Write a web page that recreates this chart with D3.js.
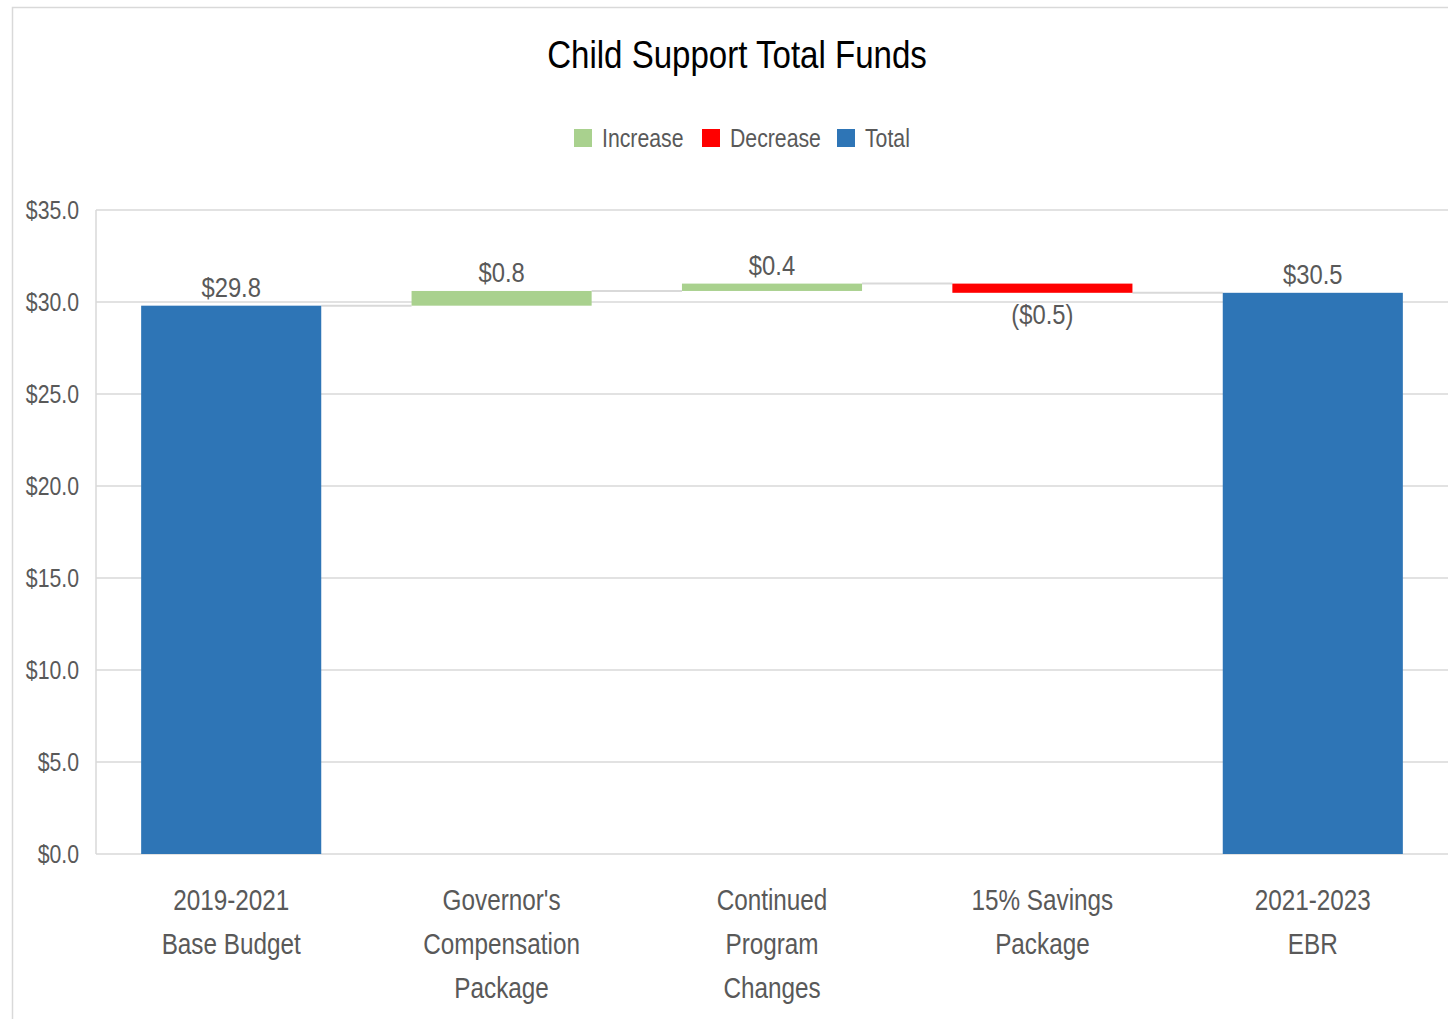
<!DOCTYPE html>
<html>
<head>
<meta charset="utf-8">
<script src="https://cdn.jsdelivr.net/npm/d3@7"></script>
<style>
  html, body { margin: 0; padding: 0; background: #fff; }
  svg { display: block; }
  text { font-family: "Liberation Sans", Arial, sans-serif; }
</style>
</head>
<body>
<svg id="chart" width="1448" height="1019"></svg>
<script>
// ---- data ----
const categories = [
  ["2019-2021", "Base Budget"],
  ["Governor's", "Compensation", "Package"],
  ["Continued", "Program", "Changes"],
  ["15% Savings", "Package"],
  ["2021-2023", "EBR"]
];
const values = [29.8, 0.8, 0.4, -0.5, 30.5];
const kinds = ["Total", "Increase", "Increase", "Decrease", "Total"];
const yTicks = [0, 5, 10, 15, 20, 25, 30, 35];
const legendItems = ["Increase", "Decrease", "Total"];
const title = "Child Support Total Funds";

// ---- styling ----
const colors = { Increase: "#a9d18e", Decrease: "#ff0000", Total: "#2e75b6" };
const textColor = "#595959";
const gridColor = "#d9d9d9";
const SX = 0.85; // horizontal squeeze to mimic a narrow font

const svg = d3.select("#chart");
const plot = { left: 96, right: 1448, top: 210, bottom: 854 };

// helper: narrow text
function ntext(parent, x, y, str, size, anchor, fill, sx) {
  const g = parent.append("g").attr("transform", `translate(${x},${y})`);
  g.append("text").attr("transform", `scale(${sx || SX},1)`)
    .attr("text-anchor", anchor).attr("font-size", size)
    .attr("fill", fill).text(str);
  return g;
}

// chart border
svg.append("rect")
  .attr("x", 12.5).attr("y", 7.5)
  .attr("width", 1460).attr("height", 1040)
  .attr("fill", "#fff").attr("stroke", "#d9d9d9").attr("stroke-width", 1.5);

// compute waterfall segments
let running = 0;
const bars = values.map((v, i) => {
  let y0, y1;
  if (kinds[i] === "Total") { y0 = 0; y1 = v; running = v; }
  else { y0 = running; y1 = running + v; running = y1; }
  return { i, v, kind: kinds[i], y0, y1, cat: categories[i] };
});

const x = d3.scaleBand()
  .domain(d3.range(categories.length))
  .range([plot.left, plot.right])
  .paddingInner(0.334).paddingOuter(0.167);
const y = d3.scaleLinear().domain([0, 35]).range([plot.bottom, plot.top]);

// gridlines
svg.append("g")
  .selectAll("line").data(yTicks).join("line")
  .attr("x1", plot.left).attr("x2", plot.right)
  .attr("y1", d => y(d)).attr("y2", d => y(d))
  .attr("stroke", gridColor).attr("stroke-width", 1.5);

// y axis line
svg.append("line")
  .attr("x1", plot.left).attr("x2", plot.left)
  .attr("y1", plot.top).attr("y2", plot.bottom)
  .attr("stroke", gridColor).attr("stroke-width", 1.5);

// y tick labels via axis
const yAxis = d3.axisLeft(y).tickValues(yTicks)
  .tickFormat(d => "$" + d3.format(".1f")(d)).tickSize(0).tickPadding(20);
const ga = svg.append("g").attr("transform", `translate(${plot.left},0)`).call(yAxis);
ga.select(".domain").remove();
ga.selectAll("text").attr("fill", textColor).attr("font-size", 25)
  .attr("transform", `scale(${SX},1)`)
  .style("font-family", '"Liberation Sans", Arial, sans-serif');

// connectors
const conn = bars.slice(0, -1).map((b, i) => ({ from: b, to: bars[i + 1], level: b.y1 }));
svg.append("g").selectAll("line").data(conn).join("line")
  .attr("x1", d => x(d.from.i) + x.bandwidth())
  .attr("x2", d => x(d.to.i))
  .attr("y1", d => y(d.level)).attr("y2", d => y(d.level))
  .attr("stroke", gridColor).attr("stroke-width", 2);

// bars
svg.append("g").selectAll("rect").data(bars).join("rect")
  .attr("x", d => x(d.i))
  .attr("width", x.bandwidth())
  .attr("y", d => y(Math.max(d.y0, d.y1)))
  .attr("height", d => Math.abs(y(d.y0) - y(d.y1)))
  .attr("fill", d => colors[d.kind]);

// data labels
const fmtLabel = v => v < 0 ? "($" + d3.format(".1f")(-v) + ")" : "$" + d3.format(".1f")(v);
const gl = svg.append("g");
bars.forEach(d => {
  const cx = x(d.i) + x.bandwidth() / 2;
  const ly = d.v < 0 ? y(Math.min(d.y0, d.y1)) + 31 : y(Math.max(d.y0, d.y1)) - 9;
  ntext(gl, cx, ly, fmtLabel(d.v), 28, "middle", textColor);
});

// category labels
const gc = svg.append("g");
bars.forEach(d => {
  const cx = x(d.i) + x.bandwidth() / 2;
  d.cat.forEach((line, k) => ntext(gc, cx, 910 + k * 44, line, 30, "middle", textColor, 0.81));
});

// title
ntext(svg, 737, 68, title, 38, "middle", "#000", 0.87);

// legend
const legendPos = [574, 702, 837];
legendItems.forEach((d, i) => {
  const g = svg.append("g").attr("transform", `translate(${legendPos[i]},129)`);
  g.append("rect").attr("width", 18).attr("height", 18).attr("fill", colors[d]);
  ntext(g, 28, 18, d, 25, "start", textColor);
});
</script>
</body>
</html>
